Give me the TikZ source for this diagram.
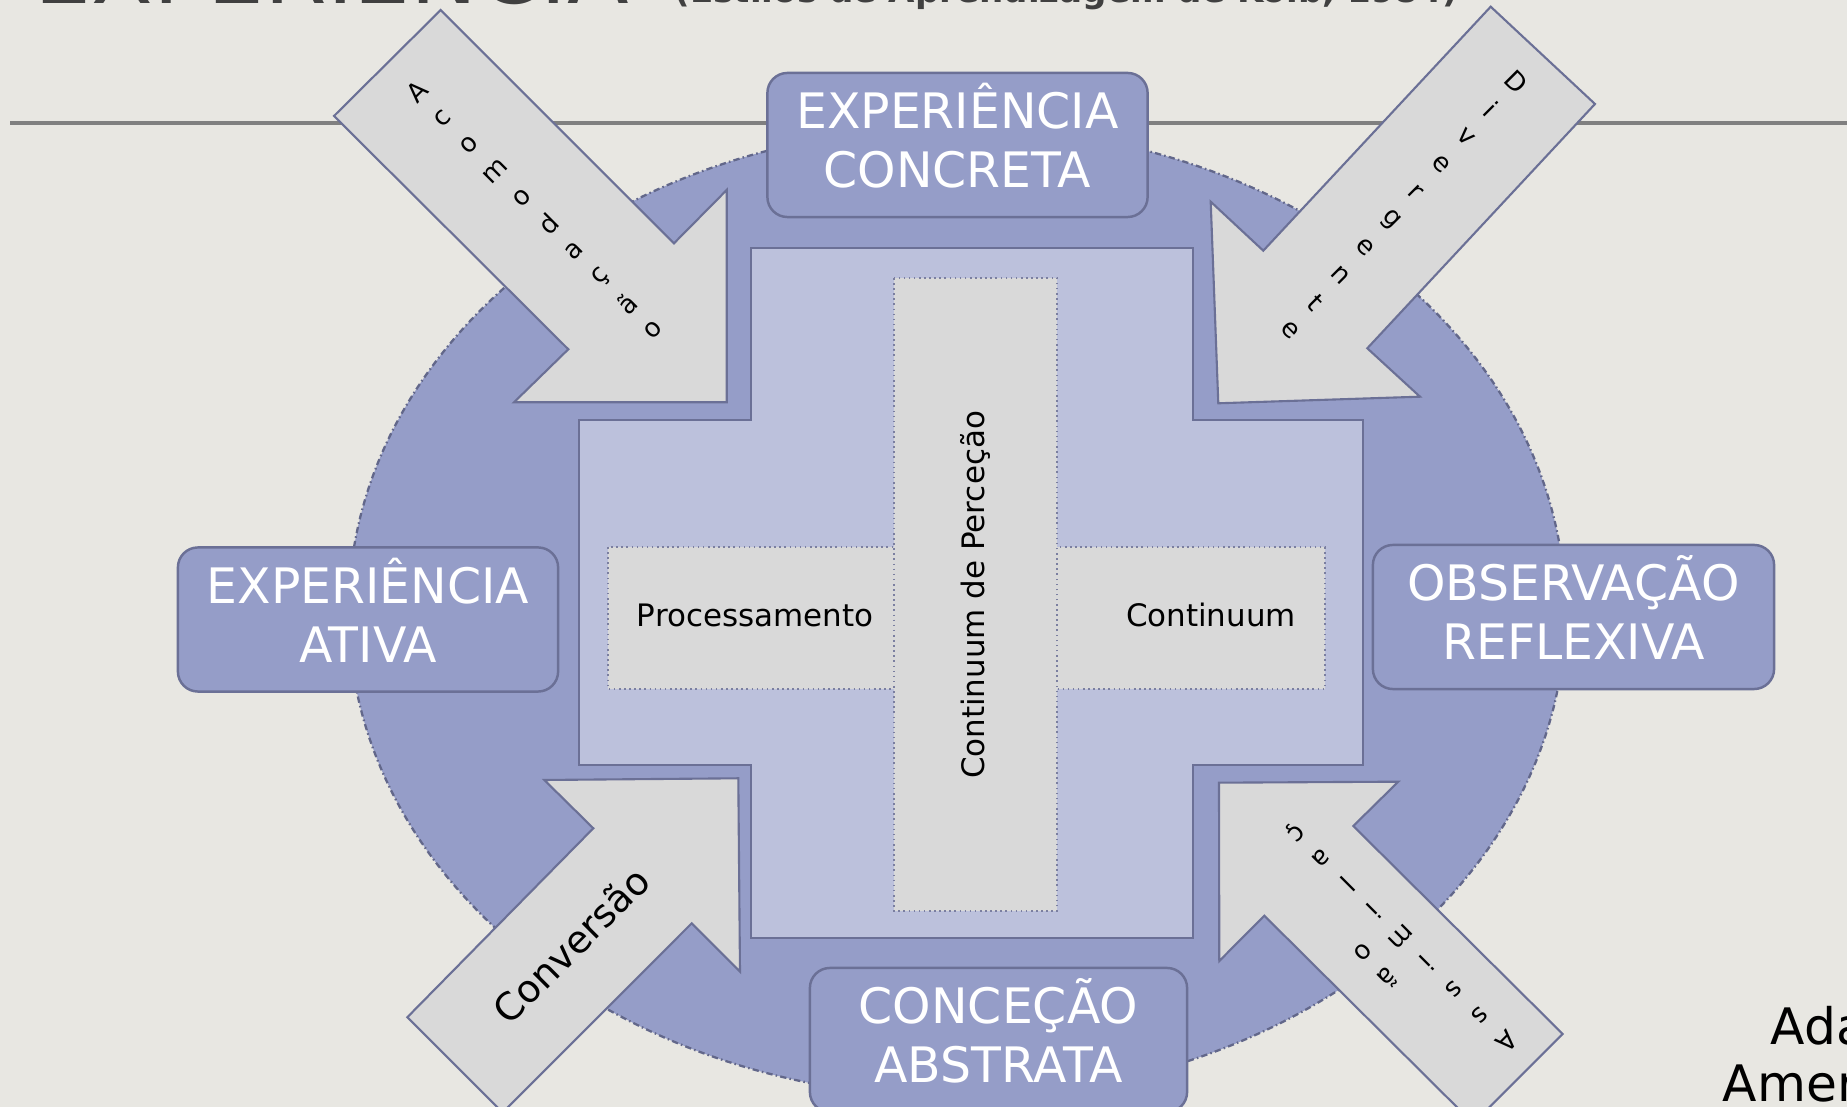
\documentclass[tikz,border=0pt]{standalone}
\usepackage{fontspec}
\setmainfont{DejaVu Sans}
\usetikzlibrary{calc}

\definecolor{bgcol}{HTML}{E8E7E2}
\definecolor{rulecol}{HTML}{808080}
\definecolor{blobcol}{HTML}{959DC8}
\definecolor{blobline}{HTML}{62678A}
\definecolor{crosscol}{HTML}{BCC1DC}
\definecolor{edgecol}{HTML}{6B7096}
\definecolor{arrowcol}{HTML}{D9D9D9}
\definecolor{dotcol}{HTML}{7B7FA0}
\definecolor{titlecol}{HTML}{404040}

\begin{document}
\begin{tikzpicture}[x=0.01cm, y=-0.01cm,
	stage/.style={draw=edgecol, line width=0.7pt, fill=blobcol, rounded corners=0.2cm,
		text=white, align=center, font=\fontsize{13.9}{16.8}\selectfont, text depth=0.19cm,
		minimum width=3.8cm, minimum height=1.44cm, inner sep=0pt},
	blockarrow/.style={draw=edgecol, line width=0.6pt, fill=arrowcol},
	band/.style={draw=dotcol, densely dotted, line width=0.45pt, fill=arrowcol},
	lbl/.style={font=\fontsize{8.8}{10.5}\selectfont, inner sep=0pt},
	letter/.style={font=\fontsize{7.4}{8}\selectfont, inner sep=0pt}]
		% page
		\fill[bgcol] (0,0) rectangle (1847,1107);
		\useasboundingbox (0,0) rectangle (1847,1107);
		
		% title (cut by the page edge)
		\node[anchor=base west, inner sep=0pt, text=titlecol, font=\fontsize{25.6}{30}\selectfont] (title) at (34,4) {EXPERIÊNCIA};
		\node[anchor=base west, inner sep=0pt, text=titlecol, font=\fontsize{9.7}{12}\selectfont\bfseries] (subtitle) at (674,3) {(Estilos de Aprendizagem de Kolb, 1984)};
		\draw[line width=1.15pt, rulecol] (10,123) -- (1847,123);
		
		% blob
		\draw[fill=blobcol, draw=blobline, line width=0.65pt,
		dash pattern=on 1.8pt off 0.9pt on 0.45pt off 0.9pt]
		(957,612) ellipse [x radius=6.08cm, y radius=4.85cm];
		
		% cross
		\draw[fill=crosscol, draw=edgecol, line width=0.6pt]
		(751,248) -- (1193,248) -- (1193,420) -- (1363,420) -- (1363,765) -- (1193,765)
		-- (1193,938) -- (751,938) -- (751,765) -- (579,765) -- (579,420) -- (751,420) -- cycle;
		
		\draw[band] (608,547) rectangle (1325,689);
		\draw[band] (894,278) rectangle (1057,911);
		\node[lbl] (proc) at (755,615) {Processamento};
		\node[lbl] (cont) at (1211,615) {Continuum};
		\node[lbl, rotate=90] (perc) at (975,595) {Continuum de Perceção};
		
		% arrows
		\draw[blockarrow] (440.7,10) -- (674,243.3) -- (726.7,190) -- (726.7,402.3)
		-- (514,402.3) -- (568.3,349.3) -- (334,116) -- cycle;
		\draw[blockarrow] (1490.7,6.7) -- (1595,104) -- (1367.3,348.3) -- (1420,396.7)
		-- (1218.3,403.3) -- (1210.7,201.7) -- (1263.3,250.7) -- cycle;
		\draw[blockarrow] (407.3,1017.3) -- (593.3,828.3) -- (544.3,780) -- (738.3,778.3)
		-- (740,971.7) -- (691.7,923.3) -- (502.6,1112.6) -- cycle;
		\draw[blockarrow] (1219,782.7) -- (1398.3,781.7) -- (1353.3,826) -- (1562.7,1034)
		-- (1473.3,1123.4) -- (1264.3,915.7) -- (1219.3,961) -- cycle;
		
		% arrow texts
		\foreach \ch [count=\i from 0] in {A,c,o,m,o,d,a,ç,ã,o}
		\node[letter, rotate=45] (acom\i) at ($(416.7,91.7)+\i*(26.3,26.5)$) {\ch};
		\foreach \ch [count=\i from 0] in {D,i,v,e,r,g,e,n,t,e}
		\node[letter, rotate=-45] (div\i) at ($(1516.7,81.7)+\i*(-25.2,27.6)$) {\ch};
		\foreach \ch [count=\i from 0] in {A,s,s,i,m,i,l,a,ç}
		\node[letter, rotate=225] (assa\i) at ($(1506.7,1041.7)+\i*(-26.5,-26.2)$) {\ch};
		\foreach \ch [count=\i from 0] in {ã,o}
		\node[letter, rotate=225] (assb\i) at ($(1388.3,978.3)+\i*(-25,-26.6)$) {\ch};
		\node[rotate=45, inner sep=0pt, font=\fontsize{10.8}{13}\selectfont] (conv) at (571,945) {Conversão};
		
		% stages
		\node[stage] (concrete) at (957.5,145) {EXPERIÊNCIA\\CONCRETA};
		\node[stage] (active) at (368,619.5) {EXPERIÊNCIA\\ATIVA};
		\node[stage, minimum width=4.01cm] (reflect) at (1573.5,617) {OBSERVAÇÃO\\REFLEXIVA};
		\node[stage, minimum width=3.77cm] (abstract) at (998.5,1040) {CONCEÇÃO\\ABSTRATA};
		
		% source
		\node[anchor=base west, inner sep=0pt, font=\fontsize{14.3}{17}\selectfont] (src1) at (1770,1045) {Ada};
		\node[anchor=base west, inner sep=0pt, font=\fontsize{14.3}{17}\selectfont] (src2) at (1722,1102) {Amer};
	\end{tikzpicture}
\end{document}
